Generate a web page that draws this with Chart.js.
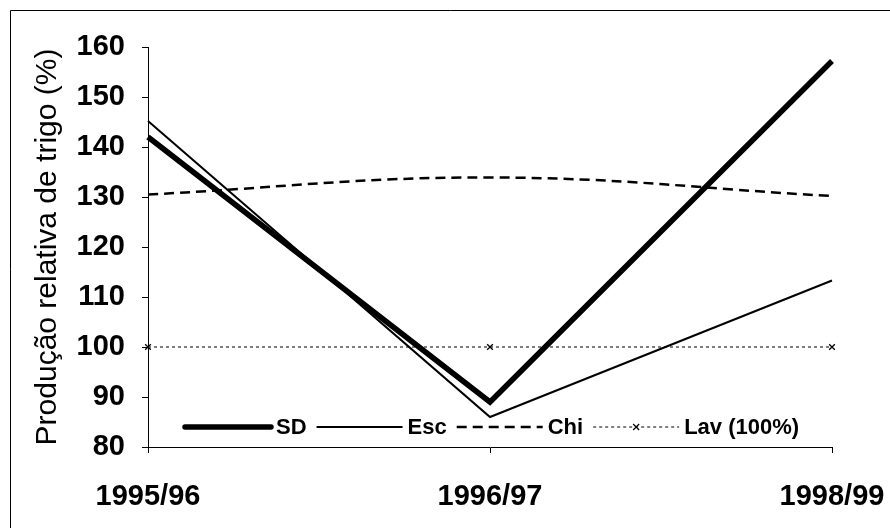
<!DOCTYPE html>
<html lang="pt">
<head>
  <meta charset="UTF-8">
  <title>Produção relativa de trigo</title>
  <script src="https://cdn.jsdelivr.net/npm/chart.js"></script>
  <style>
    html, body { margin: 0; padding: 0; background: #fff; }
    #wrap { width: 890px; height: 528px; position: relative; }
  </style>
</head>
<body>
  <div id="wrap"><canvas id="chart"></canvas></div>

  <script>
    const seasons = ['1995/96', '1996/97', '1998/99'];
    const sd = [142, 89, 157.2];
    const esc = [145.2, 86, 113.3];
    const chi = [130.5, 133.9, 130.2];
    const lav = [100, 100, 100];
    const yTicks = [80, 90, 100, 110, 120, 130, 140, 150, 160];

    const FONT = 'Arial, "Liberation Sans", sans-serif';

    // moldura esquerda/superior da figura
    const framePlugin = {
      id: 'frame',
      beforeDraw(chart) {
        const ctx = chart.ctx;
        ctx.save();
        ctx.strokeStyle = '#000';
        ctx.lineWidth = 1;
        ctx.beginPath();
        ctx.moveTo(10.5, 528);
        ctx.lineTo(10.5, 10.5);
        ctx.lineTo(890, 10.5);
        ctx.stroke();
        ctx.restore();
      }
    };

    // legenda dentro da área do gráfico, em linha
    const legendPlugin = {
      id: 'inlineLegend',
      afterDatasetsDraw(chart) {
        const ctx = chart.ctx;
        const y = 427;
        let x = 185;
        ctx.save();
        ctx.font = 'bold 22px ' + FONT;
        ctx.textBaseline = 'middle';
        ctx.fillStyle = '#000';
        chart.data.datasets.forEach(ds => {
          const len = 86;
          ctx.beginPath();
          ctx.strokeStyle = '#000';
          ctx.lineWidth = ds.borderWidth;
          ctx.lineCap = ds.borderWidth > 3 ? 'round' : 'butt';
          ctx.setLineDash(ds.borderDash || []);
          ctx.moveTo(x, y);
          ctx.lineTo(x + len, y);
          ctx.stroke();
          ctx.setLineDash([]);
          if (ds.pointStyle === 'crossRot') {
            const cx = x + len / 2, r = 3;
            ctx.lineWidth = 1.2;
            ctx.beginPath();
            ctx.moveTo(cx - r, y - r); ctx.lineTo(cx + r, y + r);
            ctx.moveTo(cx - r, y + r); ctx.lineTo(cx + r, y - r);
            ctx.stroke();
          }
          x += len + 5;
          ctx.fillText(ds.label, x, y + 1);
          x += ctx.measureText(ds.label).width + 10;
        });
        ctx.restore();
      }
    };

    new Chart(document.getElementById('chart'), {
      type: 'line',
      data: {
        labels: seasons,
        datasets: [
          { label: 'SD', data: sd, borderColor: '#000', borderWidth: 5.5, pointRadius: 0, tension: 0 },
          { label: 'Esc', data: esc, borderColor: '#000', borderWidth: 2, pointRadius: 0, tension: 0 },
          { label: 'Chi', data: chi, borderColor: '#000', borderWidth: 2.5, borderDash: [10, 6],
            pointRadius: 0, tension: 0.4 },
          { label: 'Lav (100%)', data: lav, borderColor: '#000', borderWidth: 1.2, borderDash: [3, 3],
            pointStyle: 'crossRot', pointRadius: 4, pointBorderWidth: 1.3,
            pointBorderColor: '#000', pointBackgroundColor: '#000', tension: 0 }
        ]
      },
      options: {
        responsive: true,
        maintainAspectRatio: false,
        animation: false,
        events: [],
        layout: { padding: { top: 47, right: 58, left: 0, bottom: 0 } },
        plugins: { legend: { display: false }, tooltip: { enabled: false } },
        scales: {
          x: {
            type: 'category',
            offset: false,
            afterFit(scale) { scale.height = 81; scale.paddingRight = 0; scale.paddingLeft = 0; },
            border: { color: '#000', width: 1 },
            grid: { drawOnChartArea: false, drawTicks: true, tickLength: 6, color: '#000' },
            ticks: { color: '#000', padding: 27, maxRotation: 0, font: { family: FONT, size: 29, weight: 'bold' } }
          },
          y: {
            min: 80,
            max: 160,
            afterFit(scale) { scale.width = 148; },
            afterBuildTicks(scale) { scale.ticks = yTicks.map(v => ({ value: v })); },
            border: { color: '#000', width: 1 },
            grid: { drawOnChartArea: false, drawTicks: true, tickLength: 6, color: '#000' },
            ticks: { color: '#000', padding: 17, font: { family: FONT, size: 29, weight: 'bold' } },
            title: {
              display: true,
              text: 'Produção relativa de trigo (%)',
              color: '#000',
              font: { family: FONT, size: 30 },
              padding: { top: 30, bottom: 0 }
            }
          }
        }
      },
      plugins: [framePlugin, legendPlugin]
    });
  </script>
</body>
</html>
